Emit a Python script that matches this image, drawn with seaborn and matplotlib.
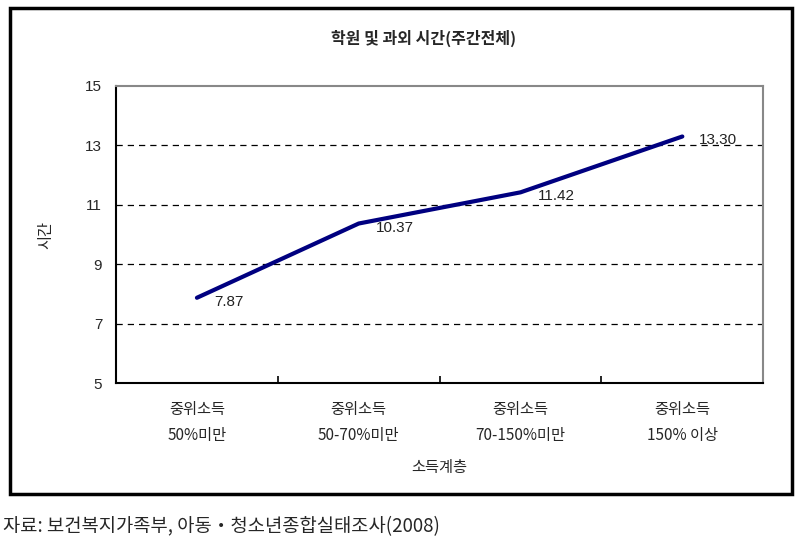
import pandas as pd
import matplotlib.pyplot as plt
import seaborn as sns
from matplotlib.patches import Rectangle

# Data
categories = ["중위소득\n50%미만", "중위소득\n50-70%미만", "중위소득\n70-150%미만", "중위소득\n150% 이상"]
hours = [7.87, 10.37, 11.42, 13.30]
y_ticks = [5, 7, 9, 11, 13, 15]

df = pd.DataFrame({"pos": range(len(categories)), "hours": hours})

sns.set_style("white")
plt.rcParams["font.family"] = ["Noto Sans CJK KR", "DejaVu Sans"]

fig = plt.figure(figsize=(8.04, 5.46), dpi=100)
ax = fig.add_axes([0.1443, 0.2985, 0.805, 0.544])

sns.lineplot(data=df, x="pos", y="hours", color="#000080", linewidth=3, ax=ax)

# value labels
for x, y in zip(df["pos"], df["hours"]):
    ax.annotate(f"{y:.2f}", (x, y), xytext=(17, -4), textcoords="offset pixels",
                ha="left", va="center", fontsize=11, color="#222222",
                family=["Liberation Sans", "DejaVu Sans"])

# dashed grid lines at inner ticks
for t in y_ticks[1:-1]:
    ax.axhline(t, color="black", linestyle=(0, (5, 4)), linewidth=0.9, zorder=0)

ax.set_xlim(-0.5, len(categories) - 0.5)
ax.set_ylim(5, 15)
ax.set_yticks(y_ticks)
ax.set_yticklabels([str(t) for t in y_ticks], family=["Liberation Sans", "DejaVu Sans"])
ax.set_xticks(range(len(categories)))
ax.set_xticklabels(categories, linespacing=1.7)
ax.set_xticks([0.5, 1.5, 2.5], minor=True)
ax.tick_params(axis="x", which="major", length=0, pad=13, labelsize=11)
ax.tick_params(axis="x", which="minor", direction="in", length=5, width=1.2, color="black", bottom=True)
ax.tick_params(axis="y", length=0, pad=10, labelsize=11)

ax.set_xlabel("소득계층", fontsize=11, labelpad=11)
ax.set_ylabel("시간", fontsize=11, labelpad=22)

for side in ["left", "bottom"]:
    ax.spines[side].set_color("black")
    ax.spines[side].set_linewidth(1.5)
for side in ["top", "right"]:
    ax.spines[side].set_color("#888888")
    ax.spines[side].set_linewidth(1.5)

fig.text(0.527, 0.930, "학원 및 과외 시간(주간전체)", ha="center", va="center",
         fontsize=11.5, fontweight="bold")

# outer frame
fig.patches.append(Rectangle((0.0124, 0.0952), 0.9726, 0.8898, transform=fig.transFigure,
                             fill=False, edgecolor="black", linewidth=2.5))

fig.text(0.004, 0.035, "자료: 보건복지가족부, 아동・청소년종합실태조사(2008)", ha="left", va="center",
         fontsize=13.5)

fig.savefig("out.png", dpi=100)
